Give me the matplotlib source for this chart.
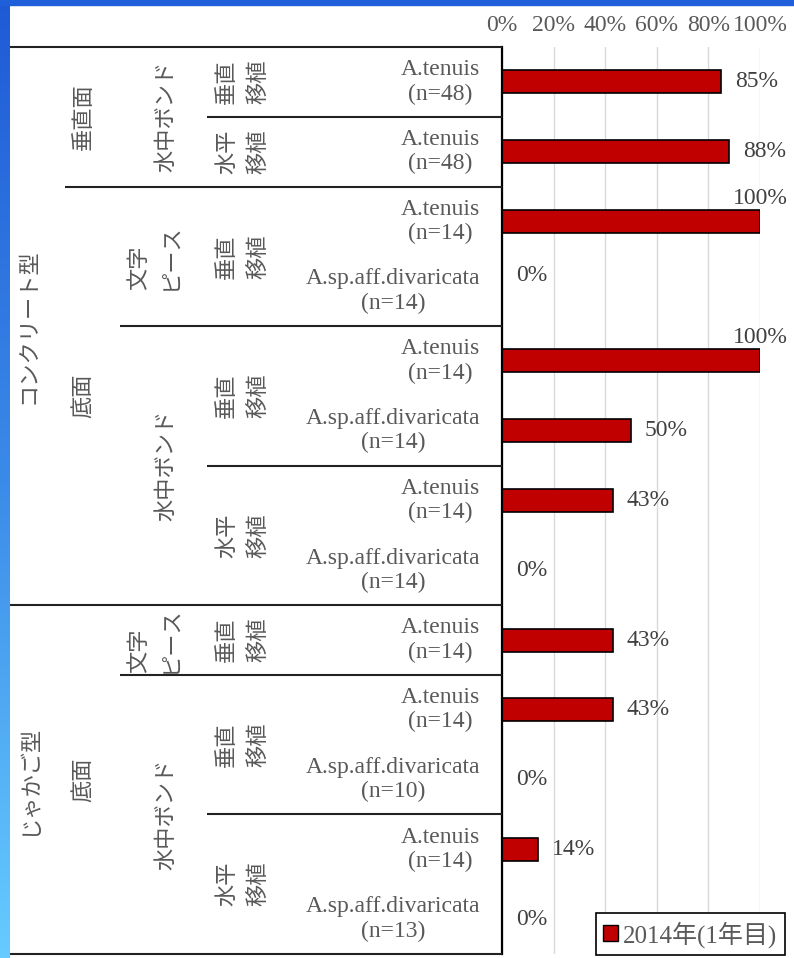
import numpy as np
import matplotlib.pyplot as plt
from matplotlib.patches import Patch, Rectangle
from matplotlib.colors import LinearSegmentedColormap

#%%
# values (one row per bar, top to bottom)
species = [
  'A.tenuis\n(n=48)', 'A.tenuis\n(n=48)',
  'A.tenuis\n(n=14)', 'A.sp.aff.divaricata\n(n=14)',
  'A.tenuis\n(n=14)', 'A.sp.aff.divaricata\n(n=14)',
  'A.tenuis\n(n=14)', 'A.sp.aff.divaricata\n(n=14)',
  'A.tenuis\n(n=14)',
  'A.tenuis\n(n=14)', 'A.sp.aff.divaricata\n(n=10)',
  'A.tenuis\n(n=14)', 'A.sp.aff.divaricata\n(n=13)',
]
survival = [0.85, 0.88, 1.00, 0.00, 1.00, 0.50, 0.43, 0.00, 0.43, 0.43, 0.00, 0.14, 0.00]

# category hierarchy: (label, rows spanned), outermost level first
lvl1 = [('コンクリート型', 8), ('じゃかご型', 5)]
lvl2 = [('垂直面', 2), ('底面', 6), ('底面', 5)]
lvl3 = [('水中ボンド', 2), ('文字\nピース', 2), ('水中ボンド', 4), ('文字\nピース', 1), ('水中ボンド', 4)]
lvl4 = [('垂直\n移植', 1), ('水平\n移植', 1), ('垂直\n移植', 2), ('垂直\n移植', 2),
        ('水平\n移植', 2), ('垂直\n移植', 1), ('垂直\n移植', 2), ('水平\n移植', 2)]
series_name = '2014年(1年目)'
xticks = [0, 0.2, 0.4, 0.6, 0.8, 1.0]

#%%
SERIF = ['Liberation Serif', 'Noto Sans CJK JP']
JP = ['Noto Sans CJK JP', 'DejaVu Sans']
plt.rcParams['font.family'] = SERIF
bar_color = '#c00000'
txt_color = '#595959'
fs = 17
fs_jp = 16

W, H = 794, 958
top_px, bot_px = 47, 954
fig = plt.figure(figsize=(W/100, H/100), dpi=100)
fig.patch.set_facecolor('white')

ax_y0 = (H - bot_px) / H
ax_h = (bot_px - top_px) / H
ax = fig.add_axes([502/W, ax_y0, 258/W, ax_h])
lab = fig.add_axes([0, ax_y0, 502/W, ax_h], sharey=ax)

n = len(survival)
y = np.arange(n)

#%%
ax.barh(y, survival, height=0.33, color=bar_color, edgecolor='black', linewidth=1.2, zorder=3)
ax.set_xlim(0, 1)
ax.set_ylim(n - 0.5, -0.5)
ax.xaxis.tick_top()
ax.set_xticks(xticks)
ax.set_xticklabels([f'{t*100:.0f}%' for t in xticks])
ax.tick_params(axis='x', length=0, pad=8, labelsize=fs, labelcolor=txt_color)
ax.set_yticks([])
ax.grid(axis='x', color='#d9d9d9', linewidth=1, zorder=0)
for s in ['top', 'right', 'bottom']:
  ax.spines[s].set_visible(False)
ax.spines['left'].set_color('black')
ax.spines['left'].set_linewidth(1.6)
ax.spines['left'].set_zorder(4)

label_nudge = {3: -0.23}
for i, v in enumerate(survival):
  txt = f'{v*100:.0f}%'
  if v >= 1:
    ax.text(v, i - 0.33, txt, ha='center', va='center', fontsize=fs, color='#404040', clip_on=False)
  else:
    ax.text(v + 0.054, i + label_nudge.get(i, 0), txt, ha='left', va='center', fontsize=fs, color='#404040')

#%%
# left-hand category table
lab.set_xlim(0, 502)
lab.axis('off')
col_left = [10, 65, 120, 207]
col_text = [28, 83, 166, 242]
levels = [lvl1, lvl2, lvl3, lvl4]

breaks = []
for j, groups in enumerate(levels):
  start = 0
  b = set()
  for label, k in groups:
    x = col_text[j]
    if j == 2 and '\n' in label:
      x -= 12
    lab.text(x, start + k/2 - 0.5, label, rotation=90, ha='center', va='center',
             multialignment='left', family=JP, fontsize=fs_jp, color=txt_color, linespacing=1.45)
    start += k
    b.add(start)
  breaks.append(b)

for r in range(1, n):
  for j in range(len(levels)):
    if r in breaks[j]:
      lab.hlines(r - 0.5, col_left[j], 502, color='#222222', linewidth=1.5, clip_on=False)
      break
lab.hlines([-0.5, n - 0.5], 10, 502, color='#222222', linewidth=1.5, clip_on=False)

for i, s in enumerate(species):
  lab.text(480, i, s, ha='right', va='center', multialignment='center',
           fontsize=fs, color=txt_color, linespacing=1.2)

#%%
leg = fig.legend(
  handles=[Patch(facecolor=bar_color, edgecolor='black', label=series_name)],
  loc='lower right', bbox_to_anchor=(785/W, 3/H), bbox_transform=fig.transFigure,
  frameon=True, fancybox=False, framealpha=1, edgecolor='black',
  handlelength=0.6, handleheight=0.6, handletextpad=0.2, borderpad=0.3, borderaxespad=0,
  prop=dict(family=SERIF, size=fs + 1),
)
leg.get_frame().set_linewidth(1.2)
for t in leg.get_texts():
  t.set_color(txt_color)

#%%
# blue slide border
bd = fig.add_axes([0, 0, 10/W, 1])
cmap = LinearSegmentedColormap.from_list('edge', ['#1f5ad6', '#3b8ae8', '#66ccff'])
bd.imshow(np.linspace(0, 1, 256)[:, None], aspect='auto', cmap=cmap)
bd.axis('off')
fig.add_artist(Rectangle((0, 1 - 5/H), 1, 5/H, transform=fig.transFigure, color='#1f5fd9', zorder=10))

fig.savefig('out.png', dpi=100)
